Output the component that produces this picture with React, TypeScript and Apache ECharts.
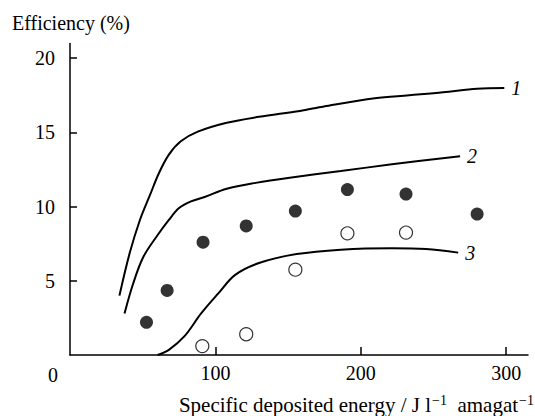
import React, { useEffect, useRef } from "react";
import * as echarts from "echarts";

const curve1X = [34.0, 41.0, 48.1, 55.1, 60.9, 68.0, 76.2, 87.9, 107.8, 130.0, 158.1, 174.6, 209.7, 233.2, 256.6, 279.9, 298.7];
const curve1Y = [4.0, 6.85, 9.1, 10.8, 12.2, 13.5, 14.4, 15.05, 15.65, 16.05, 16.45, 16.75, 17.3, 17.5, 17.7, 17.95, 18.0];

const curve2X = [37.5, 43.4, 50.4, 59.7, 68.0, 75.0, 83.2, 92.6, 107.8, 127.7, 151.1, 186.3, 221.4, 268.3];
const curve2Y = [2.8, 4.8, 6.6, 8.0, 9.1, 9.9, 10.35, 10.65, 11.2, 11.6, 11.95, 12.4, 12.85, 13.4];

const curve3X = [60.2, 68.0, 78.6, 90.2, 102.0, 113.6, 130.0, 155.8, 186.3, 221.4, 244.8, 267.0];
const curve3Y = [0, 0.35, 1.25, 2.8, 4.15, 5.4, 6.2, 6.8, 7.1, 7.2, 7.15, 6.9];

const filledX = [52.6, 66.8, 91.5, 121.2, 155.0, 190.8, 231.1, 280.0];
const filledY = [2.2, 4.35, 7.6, 8.7, 9.7, 11.15, 10.85, 9.5];

const openX = [91.0, 121.2, 155.0, 190.8, 231.1];
const openY = [0.6, 1.4, 5.75, 8.2, 8.25];

const curveLabels = ["1", "2", "3"];
const xTicks = [100, 200, 300];
const yTicks = [5, 10, 15, 20];

const FONT = "Liberation Serif";

const zip = (xs: number[], ys: number[]) => xs.map((x, i) => [x, ys[i]]);

export default function App() {
  const ref = useRef<HTMLDivElement>(null);
  useEffect(() => {
    if (!ref.current) return;
    const chart = echarts.init(ref.current, null, { renderer: "svg" });
    const lineSeries = (xs: number[], ys: number[], label: string) => ({
      type: "line",
      data: zip(xs, ys),
      smooth: 0.35,
      symbol: "none",
      lineStyle: { color: "#000", width: 2 },
      endLabel: {
        show: true,
        formatter: label,
        distance: 7,
        fontFamily: FONT,
        fontSize: 20,
        fontStyle: "italic",
        color: "#000",
      },
    });
    chart.setOption({
      animation: false,
      backgroundColor: "#fff",
      textStyle: { fontFamily: FONT },
      grid: { left: 70, right: 7, top: 43.4, bottom: 61, containLabel: false },
      xAxis: {
        type: "value",
        min: 0,
        max: 315,
        splitLine: { show: false },
        axisLine: { show: true, lineStyle: { color: "#000", width: 1.5 } },
        axisTick: { show: true, inside: true, length: 8, customValues: xTicks, lineStyle: { color: "#000", width: 1.5 } },
        axisLabel: { customValues: xTicks, margin: 8, fontFamily: FONT, fontSize: 20, color: "#000" },
      },
      yAxis: {
        type: "value",
        min: 0,
        max: 21,
        splitLine: { show: false },
        axisLine: { show: true, lineStyle: { color: "#000", width: 1.5 } },
        axisTick: { show: true, inside: true, length: 7, customValues: yTicks, lineStyle: { color: "#000", width: 1.5 } },
        axisLabel: { customValues: yTicks, margin: 15, fontFamily: FONT, fontSize: 20, color: "#000" },
      },
      graphic: [
        {
          type: "text",
          left: 12,
          top: 13,
          style: { text: "Efficiency (%)", fontFamily: FONT, fontSize: 20, fill: "#000" },
        },
        {
          type: "text",
          x: 53,
          y: 375,
          style: { text: "0", fontFamily: FONT, fontSize: 20, fill: "#000", align: "center", verticalAlign: "middle" },
        },
        {
          type: "text",
          x: 534,
          y: 415,
          style: {
            text: "{n|Specific deposited energy / J l}{s|\u22121}{n|  amagat}{s|\u22121}",
            align: "right",
            verticalAlign: "bottom",
            fill: "#000",
            fontFamily: FONT,
            rich: {
              n: { fontFamily: FONT, fontSize: 21, fill: "#000", color: "#000", verticalAlign: "bottom", lineHeight: 22 },
              s: { fontFamily: FONT, fontSize: 14, fill: "#000", color: "#000", verticalAlign: "top", lineHeight: 22, padding: [0, 0, 10, 1] },
            },
          },
        },
      ],
      series: [
        lineSeries(curve1X, curve1Y, curveLabels[0]),
        lineSeries(curve2X, curve2Y, curveLabels[1]),
        lineSeries(curve3X, curve3Y, curveLabels[2]),
        {
          type: "scatter",
          data: zip(filledX, filledY),
          symbol: "circle",
          symbolSize: 13,
          itemStyle: { color: "#000" },
        },
        {
          type: "scatter",
          data: zip(openX, openY),
          symbol: "circle",
          symbolSize: 13,
          itemStyle: { color: "#fff", borderColor: "#000", borderWidth: 1.2 },
        },
      ],
    });
    return () => chart.dispose();
  }, []);
  return <div ref={ref} style={{ position: "fixed", left: 0, top: 0, width: 535, height: 416 }} />;
}
